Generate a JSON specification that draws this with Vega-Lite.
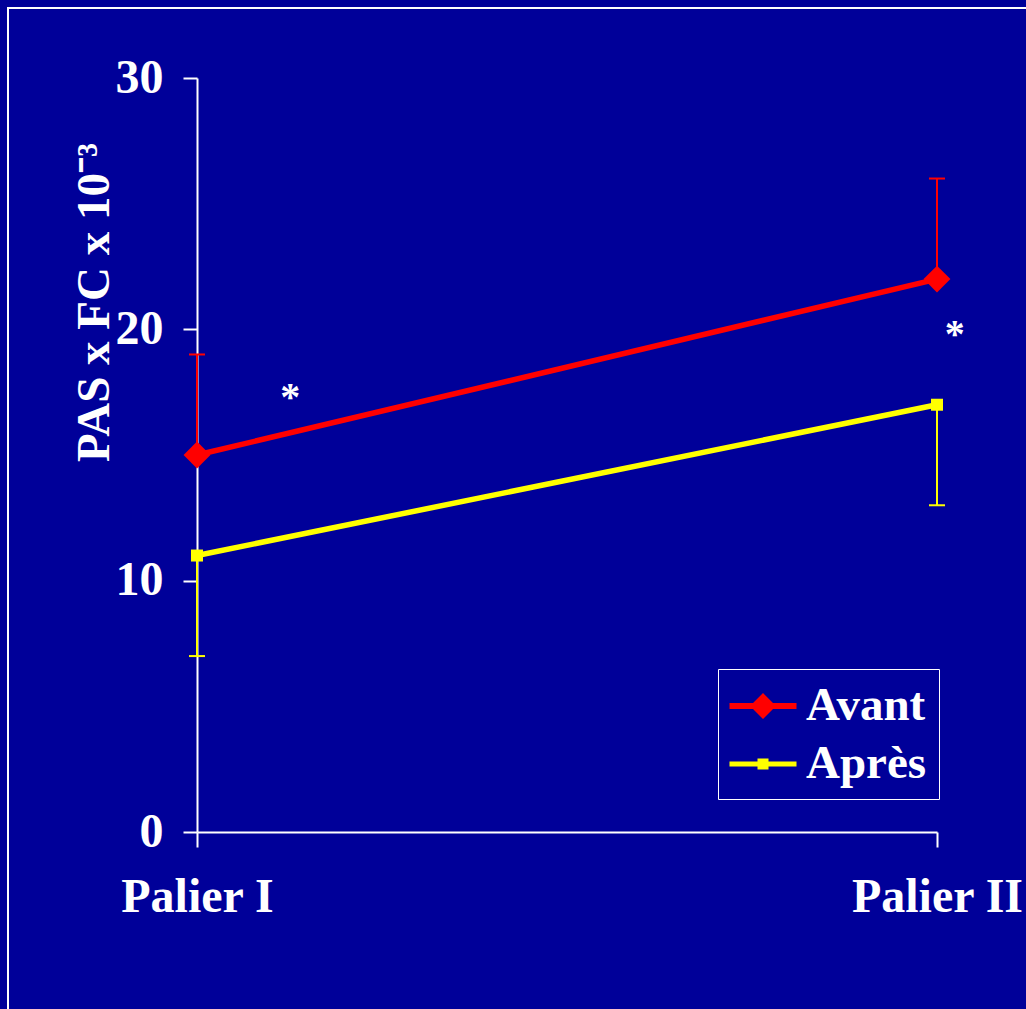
{
  "$schema": "https://vega.github.io/schema/vega-lite/v6.json",
  "autosize": {"type": "none"},
  "padding": {"left": 8, "top": 8, "right": 0, "bottom": 0},
  "width": 1022,
  "height": 1005,
  "background": "#000099",
  "config": {
    "view": {"stroke": "white", "strokeWidth": 2},
    "font": "Liberation Serif",
    "axis": {"grid": false}
  },
  "datasets": {
    "pts": [
      {"palier": 1, "serie": "Avant", "valeur": 15, "borne": 19},
      {"palier": 2, "serie": "Avant", "valeur": 22, "borne": 26},
      {"palier": 1, "serie": "Après", "valeur": 11, "borne": 7},
      {"palier": 2, "serie": "Après", "valeur": 17, "borne": 13}
    ],
    "stars": [
      {"px": 1.126, "py": 17.47, "t": "*"},
      {"px": 2.024, "py": 19.97, "t": "*"}
    ]
  },
  "encoding": {
    "x": {
      "field": "palier", "type": "quantitative",
      "scale": {"domain": [1, 2], "range": [189, 929], "zero": false, "nice": false},
      "axis": {
        "orient": "bottom", "offset": -181, "title": null,
        "values": [1, 2],
        "labelExpr": "datum.value == 1 ? 'Palier I' : 'Palier II'",
        "labelFont": "Liberation Serif", "labelFontSize": 48, "labelFontWeight": "bold", "labelColor": "white",
        "labelPadding": 26, "labelFlush": false, "labelOverlap": false,
        "domainColor": "white", "domainWidth": 2,
        "tickColor": "white", "tickWidth": 2, "tickSize": 15
      }
    },
    "y": {
      "field": "valeur", "type": "quantitative",
      "scale": {"domain": [0, 30], "range": [824, 70], "nice": false},
      "axis": {
        "orient": "left", "offset": -189,
        "values": [0, 10, 20, 30],
        "title": "PAS x FC x 10⁻³",
        "titleFont": "Liberation Serif", "titleFontSize": 47, "titleFontWeight": "bold", "titleColor": "white",
        "titleAngle": -90, "titleX": -89, "titleY": 294, "titleAlign": "center", "titleBaseline": "alphabetic",
        "labelFont": "Liberation Serif", "labelFontSize": 48, "labelFontWeight": "bold", "labelColor": "white",
        "labelPadding": 20, "labelFlush": false, "labelOverlap": false,
        "domainColor": "white", "domainWidth": 2,
        "tickColor": "white", "tickWidth": 2, "tickSize": 14
      }
    }
  },
  "layer": [
    {
      "data": {"name": "pts"},
      "mark": {"type": "rule", "strokeWidth": 2, "opacity": 1},
      "encoding": {
        "y2": {"field": "borne"},
        "color": {
          "field": "serie", "type": "nominal",
          "scale": {"domain": ["Avant", "Après"], "range": ["#ff0000", "#ffff00"]},
          "legend": {
            "orient": "none", "legendX": 710, "legendY": 661,
            "title": null,
            "strokeColor": "white", "fillColor": "#000099",
            "padding": 12, "rowPadding": 10,
            "symbolSize": 2500, "labelOffset": 26,
            "symbolStrokeWidth": 0,
            "labelFont": "Liberation Serif", "labelFontSize": 47, "labelFontWeight": "bold", "labelColor": "white",
            "encode": {
              "legend": {"update": {"strokeWidth": {"value": 2}}}
            }
          }
        }
      }
    },
    {
      "data": {"name": "pts"},
      "transform": [{"filter": "false"}],
      "mark": {"type": "point", "filled": true, "opacity": 1},
      "encoding": {
        "color": {"field": "serie", "type": "nominal"},
        "shape": {"field": "serie", "type": "nominal", "legend": null,
          "scale": {"domain": ["Avant", "Après"], "range": [
            "M-1.02,-0.12L-0.08,-0.12L0.32,-0.52L0.72,-0.12L1.66,-0.12L1.66,0.12L0.72,0.12L0.32,0.52L-0.08,0.12L-1.02,0.12Z",
            "M-1.02,-0.1L0.1,-0.1L0.1,-0.22L0.54,-0.22L0.54,-0.1L1.66,-0.1L1.66,0.1L0.54,0.1L0.54,0.22L0.1,0.22L0.1,0.1L-1.02,0.1Z"
          ]}}
      }
    },
    {
      "data": {"name": "pts"},
      "mark": {"type": "tick", "orient": "horizontal", "size": 16, "thickness": 2, "opacity": 1},
      "encoding": {
        "y": {"field": "borne", "type": "quantitative"},
        "color": {"field": "serie", "type": "nominal"}
      }
    },
    {
      "data": {"name": "pts"},
      "mark": {"type": "line", "strokeWidth": 5.5},
      "encoding": {
        "color": {"field": "serie", "type": "nominal"}
      }
    },
    {
      "data": {"name": "pts"},
      "transform": [{"filter": "datum.serie === 'Avant'"}],
      "mark": {"type": "point", "filled": true, "opacity": 1, "shape": "diamond", "size": 720},
      "encoding": {
        "color": {"field": "serie", "type": "nominal"}
      }
    },
    {
      "data": {"name": "pts"},
      "transform": [{"filter": "datum.serie === 'Après'"}],
      "mark": {"type": "point", "filled": true, "opacity": 1, "shape": "square", "size": 144},
      "encoding": {
        "color": {"field": "serie", "type": "nominal"}
      }
    },
    {
      "data": {"name": "stars"},
      "mark": {"type": "text", "font": "Liberation Serif", "fontSize": 40, "fontWeight": "bold", "color": "white", "baseline": "middle", "align": "center", "dy": 5},
      "encoding": {
        "x": {"field": "px", "type": "quantitative"},
        "y": {"field": "py", "type": "quantitative"},
        "text": {"field": "t"}
      }
    }
  ]
}
